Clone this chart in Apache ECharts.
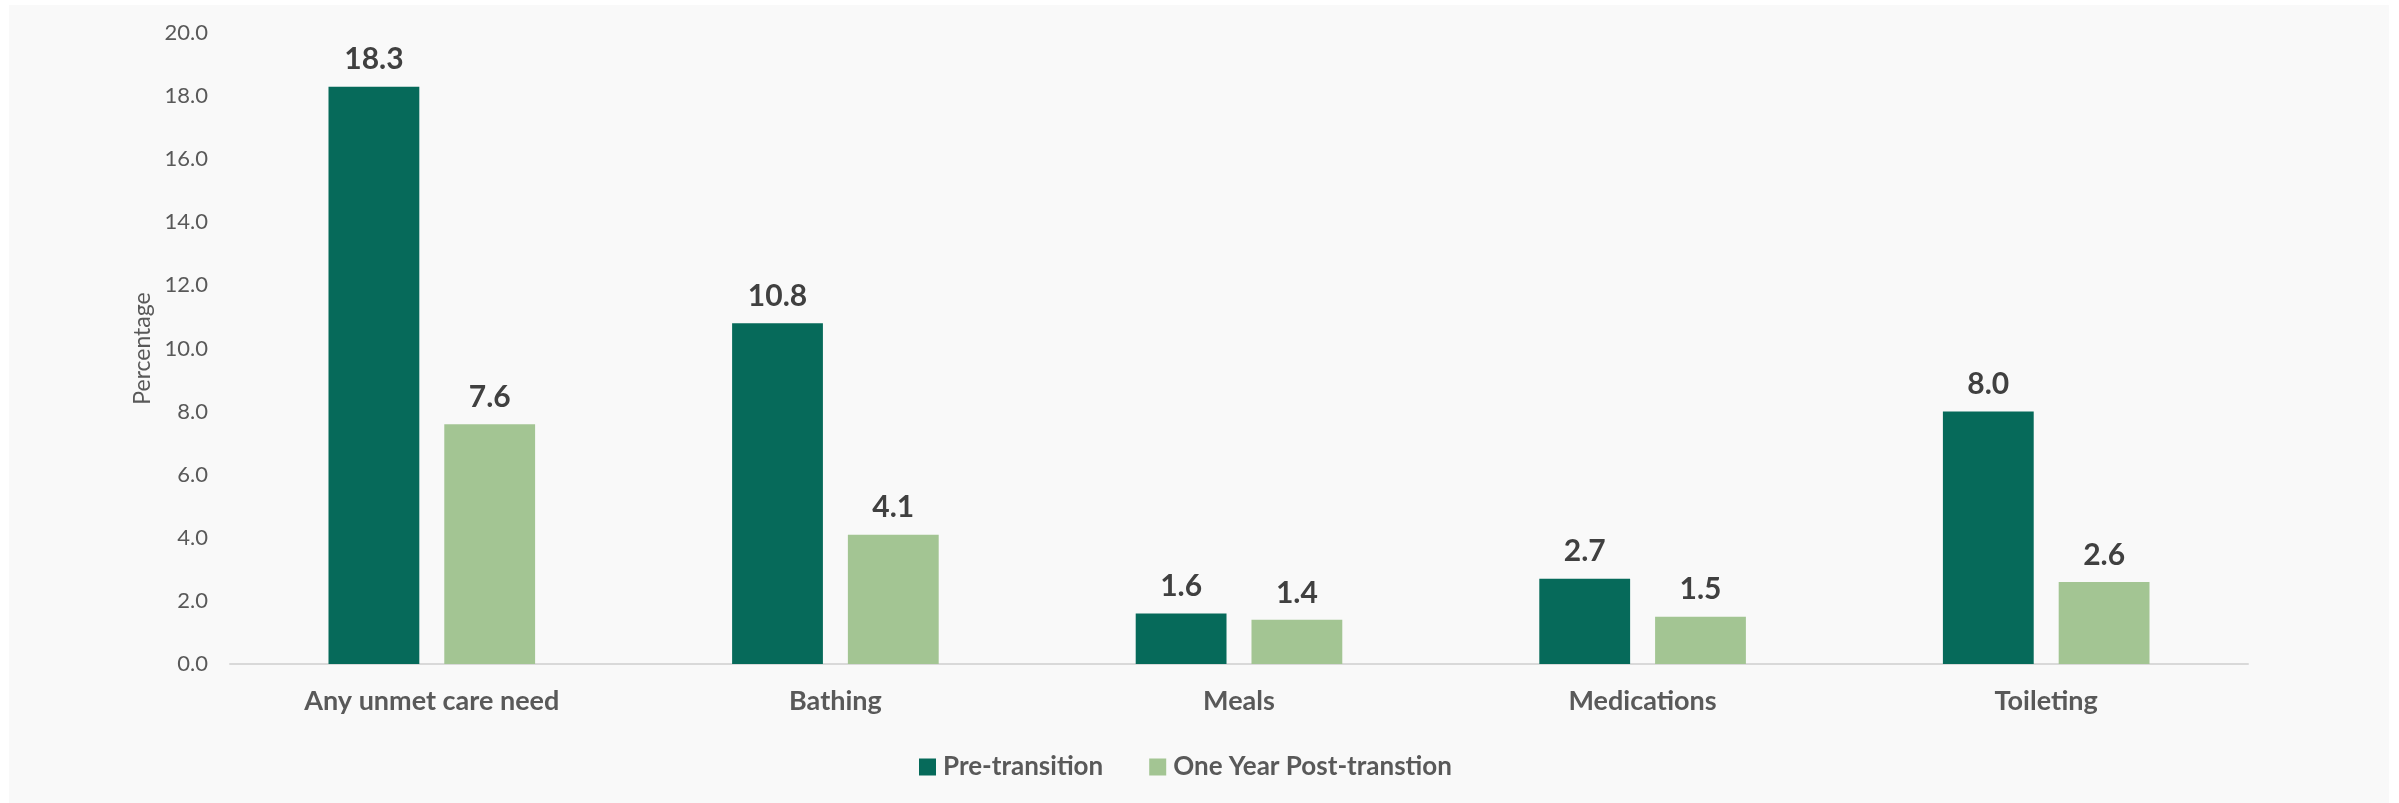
<!DOCTYPE html>
<html>
<head>
<meta charset="utf-8">
<script src="https://cdn.jsdelivr.net/npm/echarts@6/dist/echarts.min.js"></script>
<style>
  html, body { margin: 0; padding: 0; background: #ffffff; }
  #bg { position: absolute; left: 9px; top: 5px; width: 2380px; height: 798px; background: #f9f9f9; }
  #chart { position: absolute; left: 0; top: 0; width: 2399px; height: 803px; }
</style>
</head>
<body>
<div id="bg"></div>
<div id="chart"></div>
<script>
const categories = ['Any unmet care need', 'Bathing', 'Meals', 'Medications', 'Toileting'];
const preTransition = [18.3, 10.8, 1.6, 2.7, 8.0];
const postTransition = [7.6, 4.1, 1.4, 1.5, 2.6];
const seriesNames = ['Pre-transition', 'One Year Post-transtion'];
const yAxisTitle = 'Percentage';

const FONT = 'Lato, "Open Sans", sans-serif';
const chart = echarts.init(document.getElementById('chart'), null, { renderer: 'canvas' });

const labelStyle = {
  show: true,
  position: 'top',
  distance: 12,
  fontFamily: FONT,
  fontWeight: 'bold',
  fontSize: 30,
  color: '#404040',
  formatter: p => p.value.toFixed(1)
};

chart.setOption({
  backgroundColor: 'transparent',
  animation: false,
  grid: { left: 230, right: 151, top: 33, bottom: 139, containLabel: false },
  legend: {
    data: seriesNames,
    left: 914,
    top: 749,
    itemWidth: 17,
    itemHeight: 17,
    itemGap: 46,
    icon: 'rect',
    textStyle: { fontFamily: FONT, fontWeight: 'bold', fontSize: 26, color: '#595959', padding: [0, 0, 0, 2] }
  },
  xAxis: {
    type: 'category',
    data: categories,
    axisLine: { lineStyle: { color: '#d9d9d9', width: 2 } },
    axisTick: { show: false },
    axisLabel: { fontFamily: FONT, fontWeight: 'bold', fontSize: 27, color: '#595959', margin: 24 }
  },
  yAxis: {
    type: 'value',
    min: 0,
    max: 20,
    interval: 2,
    name: yAxisTitle,
    nameLocation: 'middle',
    nameGap: 76,
    nameTextStyle: { fontFamily: FONT, fontSize: 23, color: '#595959' },
    axisLine: { show: false },
    axisTick: { show: false },
    splitLine: { show: false },
    axisLabel: { fontFamily: FONT, fontSize: 22, color: '#595959', margin: 22, formatter: v => v.toFixed(1) }
  },
  series: [
    {
      name: seriesNames[0],
      type: 'bar',
      data: preTransition,
      barWidth: '22.5%',
      barGap: '27.5%',
      itemStyle: { color: '#066a5a' },
      label: labelStyle
    },
    {
      name: seriesNames[1],
      type: 'bar',
      data: postTransition,
      barWidth: '22.5%',
      barGap: '27.5%',
      itemStyle: { color: '#a3c593' },
      label: labelStyle
    }
  ]
});
</script>
</body>
</html>
